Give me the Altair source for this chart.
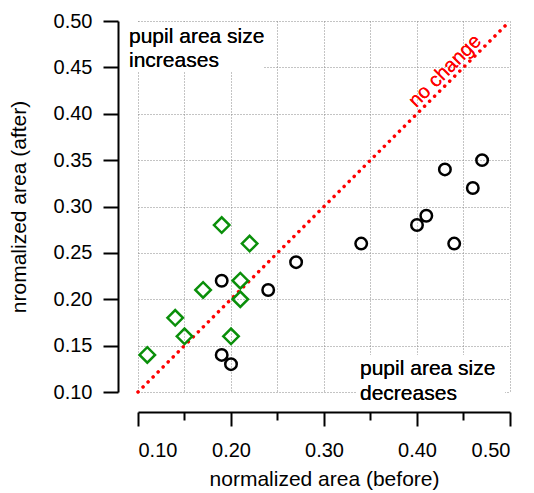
import altair as alt
import pandas as pd

# ---- data ----
circle_before = [0.47, 0.43, 0.46, 0.41, 0.40, 0.44, 0.34, 0.27, 0.24, 0.19, 0.19, 0.20]
circle_after  = [0.35, 0.34, 0.32, 0.29, 0.28, 0.26, 0.26, 0.24, 0.21, 0.22, 0.14, 0.13]

diamond_before = [0.19, 0.22, 0.21, 0.21, 0.17, 0.14, 0.15, 0.20, 0.11]
diamond_after  = [0.28, 0.26, 0.22, 0.20, 0.21, 0.18, 0.16, 0.16, 0.14]

diag = [0.10, 0.50]

tick_values = [0.10, 0.15, 0.20, 0.25, 0.30, 0.35, 0.40, 0.45, 0.50]

label_up = "pupil area size\nincreases"
label_down = "pupil area size\ndecreases"
label_line = "no change"

FONT = "Liberation Sans"

circles = pd.DataFrame({"before": circle_before, "after": circle_after})
diamonds = pd.DataFrame({"before": diamond_before, "after": diamond_after})
line_df = pd.DataFrame({"before": diag, "after": diag})

xscale = alt.Scale(domain=[0.10, 0.50], nice=False, zero=False)
yscale = alt.Scale(domain=[0.10, 0.50], nice=False, zero=False)

major_test = "round(datum.value*100) % 10 == 0"

x_axis = alt.Axis(
    values=tick_values,
    labelExpr=f"{major_test} ? format(datum.value, '.2f') : ''",
    tickSize={"condition": {"test": major_test, "value": 14}, "value": 8},
    offset=20,
    title="normalized area (before)",
    titlePadding=8,
    labelPadding=14,
)
y_axis = alt.Axis(
    values=tick_values,
    format=".2f",
    tickSize=15,
    offset=20,
    title="nromalized area (after)",
    titlePadding=24,
    labelPadding=11,
)

base_x = alt.X("before:Q", scale=xscale, axis=x_axis)
base_y = alt.Y("after:Q", scale=yscale, axis=y_axis)

box_top = alt.Chart(line_df).mark_rect(color="white").encode(
    x=alt.value(-18), x2=alt.value(125), y=alt.value(1), y2=alt.value(51)
)
box_bottom = alt.Chart(line_df).mark_rect(color="white").encode(
    x=alt.value(219), x2=alt.value(367), y=alt.value(334), y2=alt.value(386)
)

line = alt.Chart(line_df).mark_line(
    color="#ff0000", strokeWidth=3.5, strokeDash=[0.1, 7], strokeCap="round"
).encode(x=base_x, y=base_y)

txt_up = alt.Chart(line_df).mark_text(
    font=FONT, fontSize=21, align="left", baseline="alphabetic",
    lineBreak="\n", lineHeight=23.5, color="black"
).encode(x=alt.value(-9), y=alt.value(22), text=alt.value(label_up))

txt_down = alt.Chart(line_df).mark_text(
    font=FONT, fontSize=21, align="left", baseline="alphabetic",
    lineBreak="\n", lineHeight=25, color="black"
).encode(x=alt.value(222), y=alt.value(354), text=alt.value(label_down))

txt_line = alt.Chart(line_df).mark_text(
    font=FONT, fontSize=20, align="center", baseline="middle",
    angle=315, color="#ff0000"
).encode(x=alt.value(307), y=alt.value(50), text=alt.value(label_line))

pts_c = alt.Chart(circles).mark_point(
    shape="circle", filled=False, stroke="black", strokeWidth=2.5, size=132, opacity=1
).encode(x=base_x, y=base_y)

pts_d = alt.Chart(diamonds).mark_point(
    shape="diamond", filled=False, stroke="#0a8f0a", strokeWidth=2.5, size=240, opacity=1
).encode(x=base_x, y=base_y)

chart = alt.layer(
    box_top, box_bottom, line, txt_up, txt_down, txt_line, pts_c, pts_d
).properties(
    width=372, height=371,
    autosize=alt.AutoSizeParams(type="none"),
    padding={"left": 130, "top": 13, "right": 16, "bottom": 100},
).configure_view(
    stroke=None
).configure_axis(
    grid=True, gridColor="#888888", gridDash=[1, 2], gridWidth=1,
    domainColor="black", domainWidth=2, tickColor="black", tickWidth=2,
    labelFont=FONT, labelFontSize=20, labelColor="black",
    titleFont=FONT, titleFontSize=21, titleFontWeight="normal", titleColor="black",
)

chart.save("out.html", embed_options={"renderer": "svg", "actions": False})
